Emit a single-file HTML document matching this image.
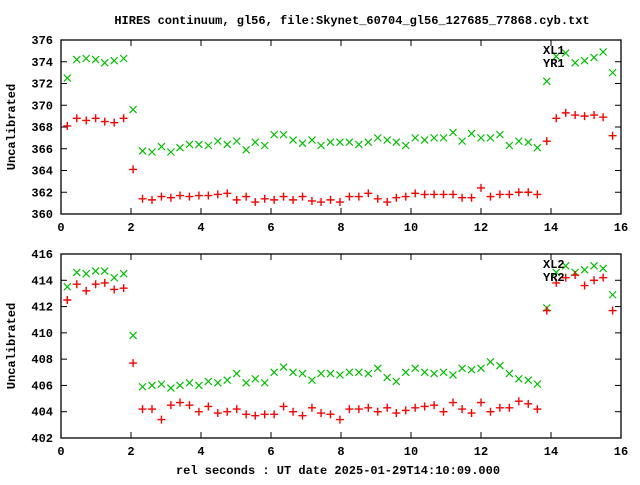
<!DOCTYPE html>
<html><head><meta charset="utf-8"><style>
body{margin:0;background:#fff}
svg text{font-family:"Liberation Mono","DejaVu Sans Mono",monospace;font-size:12px;font-weight:bold;fill:#000}
</style></head><body>
<svg id="chart" width="640" height="480" viewBox="0 0 640 480" xmlns="http://www.w3.org/2000/svg">
<text x="352" y="24" text-anchor="middle">HIRES continuum, gl56, file:Skynet_60704_gl56_127685_77868.cyb.txt</text>
<text x="338" y="474" text-anchor="middle">rel seconds : UT date 2025-01-29T14:10:09.000</text>
<g id="plots"></g>
</svg>
<script>
const times=[0.18,0.45,0.72,0.99,1.25,1.52,1.79,2.06,2.33,2.60,2.87,3.14,3.40,3.67,3.94,4.21,4.48,4.75,5.02,5.29,5.55,5.82,6.09,6.36,6.63,6.90,7.17,7.43,7.70,7.97,8.24,8.51,8.78,9.05,9.32,9.58,9.85,10.12,10.39,10.66,10.93,11.20,11.46,11.73,12.00,12.27,12.54,12.81,13.08,13.35,13.61,13.88,14.15,14.42,14.69,14.96,15.23,15.49,15.76];
const xl1=[372.5,374.2,374.3,374.2,373.9,374.1,374.3,369.6,365.8,365.7,366.2,365.7,366.1,366.4,366.4,366.3,366.7,366.4,366.7,365.9,366.6,366.3,367.3,367.3,366.8,366.5,366.8,366.3,366.6,366.6,366.6,366.4,366.6,367.0,366.8,366.6,366.3,367.0,366.8,367.0,367.0,367.5,366.7,367.4,367.0,367.0,367.3,366.3,366.7,366.6,366.1,372.2,374.5,374.8,373.9,374.1,374.4,374.9,373.0];
const yr1=[368.1,368.8,368.6,368.8,368.5,368.4,368.8,364.1,361.4,361.3,361.6,361.5,361.7,361.6,361.7,361.7,361.8,361.9,361.3,361.6,361.1,361.4,361.3,361.6,361.3,361.6,361.2,361.1,361.3,361.1,361.6,361.6,361.9,361.4,361.1,361.5,361.6,361.9,361.8,361.8,361.8,361.8,361.5,361.5,362.4,361.6,361.8,361.8,362.0,362.0,361.8,366.7,368.8,369.3,369.1,369.0,369.1,368.9,367.2];
const xl2=[413.5,414.6,414.5,414.7,414.7,414.2,414.5,409.8,405.9,406.0,406.1,405.8,406.0,406.2,406.0,406.3,406.2,406.4,406.9,406.2,406.5,406.2,407.0,407.4,407.0,406.9,406.4,406.9,406.9,406.8,407.0,407.0,406.9,407.3,406.6,406.3,407.0,407.3,407.0,406.9,407.0,406.8,407.3,407.2,407.3,407.8,407.5,406.9,406.5,406.4,406.1,411.9,414.6,415.1,414.6,414.8,415.1,414.9,412.9];
const yr2=[412.5,413.7,413.2,413.7,413.8,413.3,413.4,407.7,404.2,404.2,403.4,404.5,404.7,404.5,404.0,404.4,403.9,404.0,404.2,403.8,403.7,403.8,403.8,404.4,404.0,403.7,404.3,403.9,403.8,403.4,404.2,404.2,404.3,404.0,404.3,403.9,404.1,404.3,404.4,404.5,404.0,404.7,404.2,403.9,404.7,404.0,404.3,404.3,404.8,404.6,404.2,411.7,413.8,414.2,414.4,413.6,414.0,414.2,411.7];
const xTicks=[0,2,4,6,8,10,12,14,16];
const yTicksTop=[360,362,364,366,368,370,372,374,376];
const yTicksBot=[402,404,406,408,410,412,414,416];

const NS="http://www.w3.org/2000/svg";
const root=document.getElementById('plots');
function mk(tag,attrs,parent){const e=document.createElementNS(NS,tag);for(const k in attrs)e.setAttribute(k,attrs[k]);parent.appendChild(e);return e;}
function panel(id,top,bot,ymin,ymax,yTicks,sx,sy,lx,ly){
  const L=61,R=621;
  const g=mk('g',{},root);
  
  
  const X=v=>L+(v-0)/(16-0)*(R-L);
  const Y=v=>bot-(v-ymin)/(ymax-ymin)*(bot-top);
  const box=mk('rect',{x:L,y:top,width:R-L,height:bot-top,fill:'none',stroke:'#000','stroke-width':1.3},g);
  
  
  xTicks.forEach(t=>{const x=X(t);
    mk('line',{x1:x,y1:bot,x2:x,y2:bot-6,stroke:'#000'},g);
    mk('line',{x1:x,y1:top,x2:x,y2:top+6,stroke:'#000'},g);
    const tx=mk('text',{x:x,y:bot+17,'text-anchor':'middle'},g);tx.textContent=t;
    
    
  });
  yTicks.forEach(t=>{const y=Y(t);
    mk('line',{x1:L,y1:y,x2:L+6,y2:y,stroke:'#000'},g);
    mk('line',{x1:R,y1:y,x2:R-6,y2:y,stroke:'#000'},g);
    const tx=mk('text',{x:53,y:y+4,'text-anchor':'end'},g);tx.textContent=t;
    
    
  });
  const yl=mk('text',{x:15,y:(top+bot)/2,'text-anchor':'middle',transform:`rotate(-90 15 ${(top+bot)/2})`},g);
  yl.textContent='Uncalibrated';
  
  
  times.forEach((t,i)=>{
    const x=X(t),y=Y(sx[i]);
    const p=mk('path',{d:`M${x-3.5},${y-3.5}L${x+3.5},${y+3.5}M${x-3.5},${y+3.5}L${x+3.5},${y-3.5}`,stroke:'#00c000','stroke-width':1.2,fill:'none'},g);
    
    
    const x2=X(t),y2=Y(sy[i]);
    const q=mk('path',{d:`M${x2-4},${y2}L${x2+4},${y2}M${x2},${y2-4}L${x2},${y2+4}`,stroke:'#ff0000','stroke-width':1.4,fill:'none'},g);
    
    
  });
  const a=mk('text',{x:543,y:top+14},g);a.textContent=lx;
  
  
  const b=mk('text',{x:543,y:top+27},g);b.textContent=ly;
  
  
}
panel('top',40,214,360,376,yTicksTop,xl1,yr1,'XL1','YR1');
panel('bottom',254,438,402,416,yTicksBot,xl2,yr2,'XL2','YR2');
</script>
</body></html>
